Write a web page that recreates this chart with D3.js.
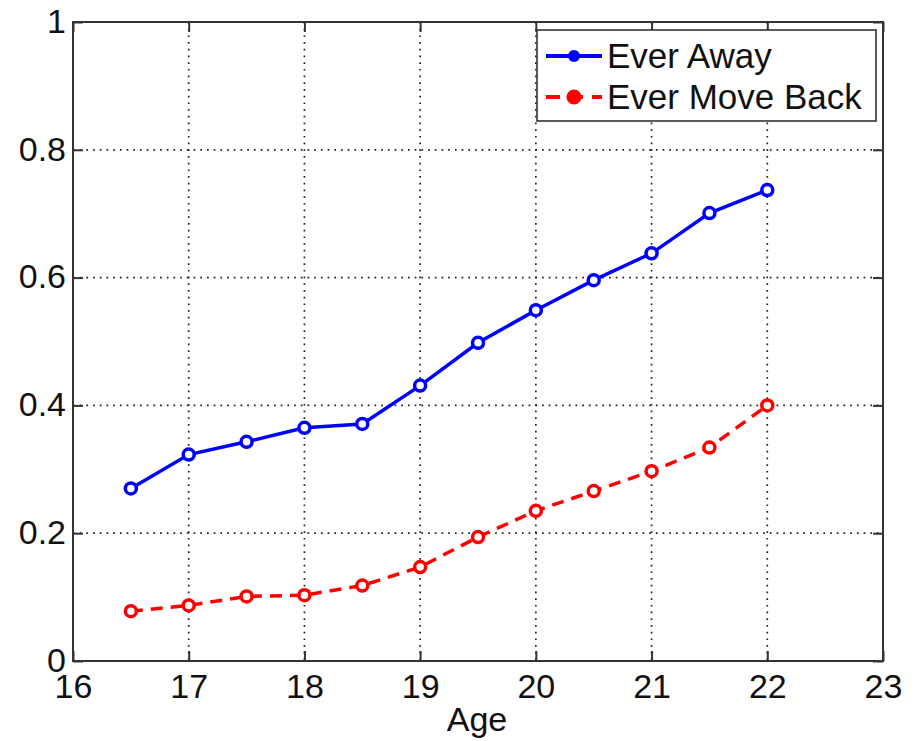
<!DOCTYPE html>
<html>
<head>
<meta charset="utf-8">
<script src="https://cdn.jsdelivr.net/npm/d3@7"></script>
<style>
  body { margin: 0; background: #fff; }
  svg { display: block; font-family: "Liberation Sans", Arial, sans-serif; }
</style>
</head>
<body>
<div id="chart"></div>
<script>
// ── Data ─────────────────────────────────────────────────────────────
const ages = [16.5, 17, 17.5, 18, 18.5, 19, 19.5, 20, 20.5, 21, 21.5, 22];
const everAway = [0.270, 0.323, 0.343, 0.365, 0.371, 0.431, 0.498, 0.549, 0.596, 0.638, 0.701, 0.737];
const everMoveBack = [0.078, 0.087, 0.101, 0.103, 0.118, 0.147, 0.194, 0.235, 0.266, 0.297, 0.334, 0.400];
const xTicks = [16, 17, 18, 19, 20, 21, 22, 23];
const yTicks = [0, 0.2, 0.4, 0.6, 0.8, 1];
const seriesNames = ["Ever Away", "Ever Move Back"];

const W = 924, H = 741;
const margin = { top: 22, right: 41, bottom: 80, left: 73 };
const width = W - margin.left - margin.right;
const height = H - margin.top - margin.bottom;

const svg = d3.select("#chart").append("svg")
    .attr("width", W)
    .attr("height", H);

const g = svg.append("g")
    .attr("transform", `translate(${margin.left},${margin.top})`);

// ── Scales ───────────────────────────────────────────────────────────
const x = d3.scaleLinear().domain([16, 23]).range([0, width]);
const y = d3.scaleLinear().domain([0, 1]).range([height, 0]);

// ── Grid ─────────────────────────────────────────────────────────────
const gridG = g.append("g");
gridG.selectAll("line.vx")
    .data(xTicks.slice(1, -1))
    .join("line")
    .attr("x1", d => x(d)).attr("x2", d => x(d))
    .attr("y1", 0).attr("y2", height)
    .style("stroke", "#222").style("stroke-width", 1.7)
    .style("stroke-dasharray", "1.7,5");
gridG.selectAll("line.hy")
    .data(yTicks.slice(1, -1))
    .join("line")
    .attr("y1", d => y(d)).attr("y2", d => y(d))
    .attr("x1", 0).attr("x2", width)
    .style("stroke", "#222").style("stroke-width", 1.7)
    .style("stroke-dasharray", "1.7,5");

// ── Axes (MATLAB box style, inward ticks on all sides) ───────────────
const tickLen = 10;
const axisStyle = sel => {
    sel.select(".domain").remove();
    sel.selectAll(".tick line").style("stroke", "#333").style("stroke-width", 2);
    sel.selectAll("text")
        .style("font-size", "34px")
        .style("fill", "#111")
        .style("font-family", "'Liberation Sans', Arial, sans-serif");
};

g.append("g")
    .attr("transform", `translate(0,${height})`)
    .call(d3.axisBottom(x).tickValues(xTicks).tickSizeInner(-tickLen).tickSizeOuter(0).tickPadding(13).tickFormat(d3.format("d")))
    .call(axisStyle);

g.append("g")
    .call(d3.axisTop(x).tickValues(xTicks).tickSizeInner(-tickLen).tickSizeOuter(0).tickFormat(""))
    .call(axisStyle);

const yAxisG = g.append("g")
    .call(d3.axisLeft(y).tickValues(yTicks).tickSizeInner(-tickLen).tickSizeOuter(0).tickPadding(7).tickFormat(d => d3.format("")(d)))
    .call(axisStyle);
yAxisG.selectAll("text").attr("dy", "0.3em");

g.append("g")
    .attr("transform", `translate(${width},0)`)
    .call(d3.axisRight(y).tickValues(yTicks).tickSizeInner(-tickLen).tickSizeOuter(0).tickFormat(""))
    .call(axisStyle);

// frame
g.append("rect")
    .attr("width", width).attr("height", height)
    .style("fill", "none").style("stroke", "#333").style("stroke-width", 2);

svg.append("text")
    .attr("x", margin.left + x(19.5) - 1)
    .attr("y", 731)
    .style("text-anchor", "middle")
    .style("font-size", "34px")
    .style("fill", "#111")
    .text("Age");

// ── Series ───────────────────────────────────────────────────────────
const line = d3.line().x(d => x(d[0])).y(d => y(d[1]));

const series = [
    { name: seriesNames[0], values: everAway, color: "#0000ff", dash: null },
    { name: seriesNames[1], values: everMoveBack, color: "#ff0000", dash: "12,8" }
];

series.forEach(s => {
    const pts = ages.map((a, i) => [a, s.values[i]]);
    g.append("path")
        .datum(pts)
        .attr("d", line)
        .style("fill", "none")
        .style("stroke", s.color)
        .style("stroke-width", 3.5)
        .style("stroke-dasharray", s.dash);
    g.selectAll(null)
        .data(pts)
        .join("circle")
        .attr("cx", d => x(d[0]))
        .attr("cy", d => y(d[1]))
        .attr("r", 5.5)
        .style("fill", "#fff")
        .style("stroke", s.color)
        .style("stroke-width", 3.5);
});

// ── Legend ───────────────────────────────────────────────────────────
const legendG = svg.append("g").attr("transform", "translate(537,30)");
legendG.append("rect")
    .attr("width", 339).attr("height", 91)
    .style("fill", "#fff").style("stroke", "#333").style("stroke-width", 1.6);

series.forEach((s, i) => {
    const row = legendG.append("g").attr("transform", `translate(0,${26 + i * 41})`);
    row.append("line")
        .attr("x1", 9).attr("x2", 65)
        .style("stroke", s.color).style("stroke-width", 4)
        .style("stroke-dasharray", s.dash ? "14,9" : null);
    row.append("circle")
        .attr("cx", 37).attr("r", s.dash ? 6.5 : 5)
        .style("fill", s.color).style("stroke", s.color).style("stroke-width", 2);
    row.append("text")
        .attr("x", 70).attr("y", 11.5)
        .style("font-size", "35px")
        .style("fill", "#111")
        .text(s.name);
});
</script>
</body>
</html>
